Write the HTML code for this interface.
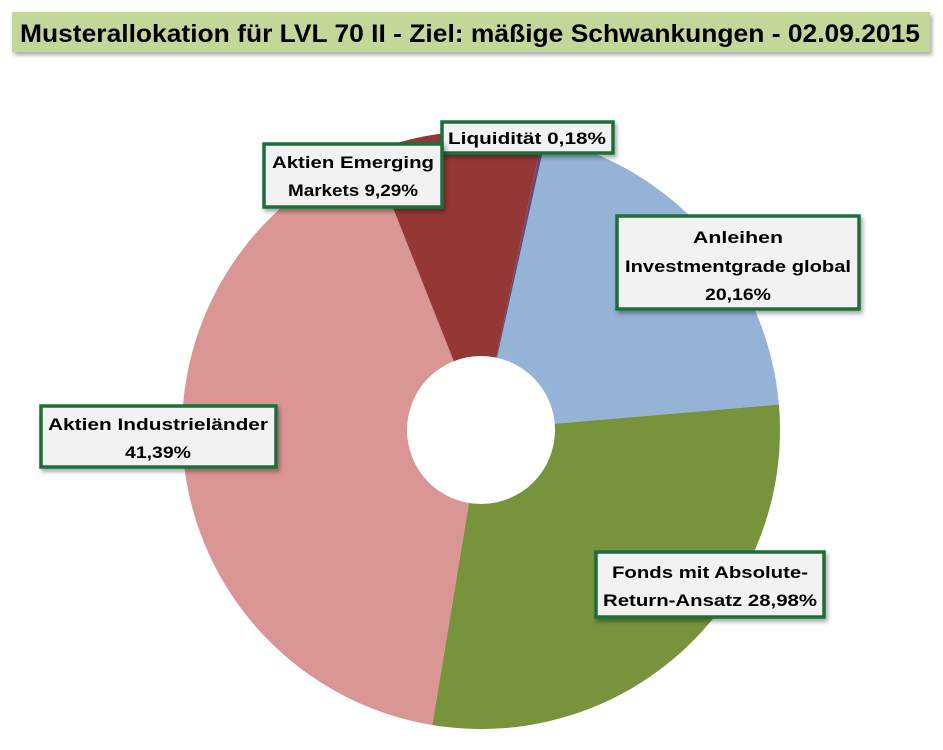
<!DOCTYPE html>
<html><head><meta charset="utf-8"><style>
html,body{margin:0;padding:0;background:#fff;}
svg{display:block;font-family:"Liberation Sans",sans-serif;}
</style></head><body>
<svg width="943" height="750" viewBox="0 0 943 750" xmlns="http://www.w3.org/2000/svg">
<defs><filter id="sh" x="-5%" y="-20%" width="110%" height="150%"><feDropShadow dx="2" dy="3" stdDeviation="2" flood-color="#000" flood-opacity="0.35"/></filter></defs>
<rect x="12" y="12" width="918" height="40" fill="#C4D79B" filter="url(#sh)"/>
<text x="20" y="42" font-size="25" font-weight="bold" fill="#000" textLength="900" lengthAdjust="spacingAndGlyphs">Musterallokation für LVL 70 II - Ziel: mäßige Schwankungen - 02.09.2015</text>
<g transform="translate(481,430)">
<path d="M0,0 L64.7,-291.9 A299,299 0 0 1 297.9,-25.5 Z" fill="#95B3D7"/>
<path d="M0,0 L297.9,-25.5 A299,299 0 0 1 -48.8,295 Z" fill="#77933C"/>
<path d="M0,0 L-48.8,295 A299,299 0 0 1 -110.1,-278 Z" fill="#D99694"/>
<path d="M0,0 L-110.1,-278 A299,299 0 0 1 61.4,-292.7 Z" fill="#953735"/>
<path d="M0,0 L61.4,-292.7 A299,299 0 0 1 64.7,-291.9 Z" fill="#604A7B"/>
<circle r="74" fill="#fff"/>
</g>
<g font-size="17" font-weight="bold" fill="#000" text-anchor="middle">
<rect x="442" y="122" width="171" height="31" fill="#F2F2F2" stroke="#1E6E3A" stroke-width="3.5" filter="url(#sh)"/>
<text x="527" y="144" textLength="158" lengthAdjust="spacingAndGlyphs">Liquidität 0,18%</text>
<rect x="264" y="144" width="178" height="63" fill="#F2F2F2" stroke="#1E6E3A" stroke-width="3.5" filter="url(#sh)"/>
<text x="353" y="168" textLength="162" lengthAdjust="spacingAndGlyphs">Aktien Emerging</text>
<text x="353" y="196" textLength="130" lengthAdjust="spacingAndGlyphs">Markets 9,29%</text>
<rect x="617" y="216" width="242" height="93" fill="#F2F2F2" stroke="#1E6E3A" stroke-width="3.5" filter="url(#sh)"/>
<text x="738" y="243" textLength="90" lengthAdjust="spacingAndGlyphs">Anleihen</text>
<text x="738" y="272" textLength="226" lengthAdjust="spacingAndGlyphs">Investmentgrade global</text>
<text x="738" y="300" textLength="66" lengthAdjust="spacingAndGlyphs">20,16%</text>
<rect x="41" y="406" width="235" height="61" fill="#F2F2F2" stroke="#1E6E3A" stroke-width="3.5" filter="url(#sh)"/>
<text x="158" y="430" textLength="220" lengthAdjust="spacingAndGlyphs">Aktien Industrieländer</text>
<text x="158" y="458" textLength="66" lengthAdjust="spacingAndGlyphs">41,39%</text>
<rect x="596" y="552" width="228" height="65" fill="#F2F2F2" stroke="#1E6E3A" stroke-width="3.5" filter="url(#sh)"/>
<text x="710" y="578" textLength="196" lengthAdjust="spacingAndGlyphs">Fonds mit Absolute-</text>
<text x="710" y="606" textLength="214" lengthAdjust="spacingAndGlyphs">Return-Ansatz 28,98%</text>
</g>
</svg>
</body></html>
